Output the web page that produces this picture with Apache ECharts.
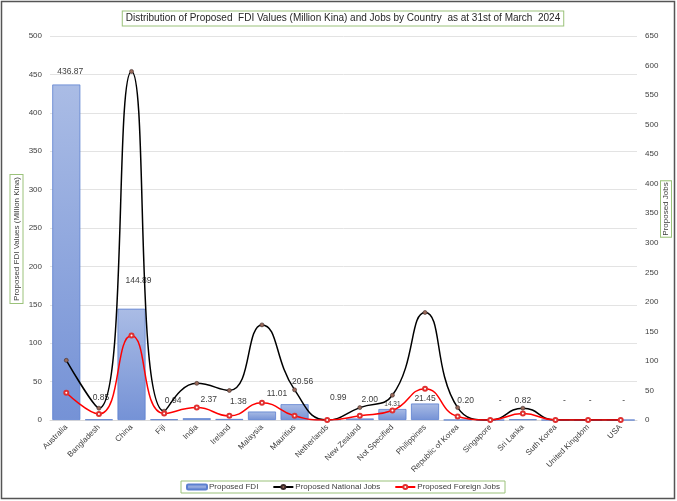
<!DOCTYPE html>
<html>
<head>
<meta charset="utf-8">
<script src="https://cdn.jsdelivr.net/npm/echarts@6/dist/echarts.min.js"></script>
<style>
  html, body { margin: 0; padding: 0; background: #fff; }
  #chart { width: 677px; height: 501px; }
</style>
</head>
<body>
<div id="chart"></div>
<script>
// Countries along the category axis
const countries = ['Australia', 'Bangladesh', 'China', 'Fiji', 'India', 'Ireland', 'Malaysia',
  'Mauritius', 'Netherlands', 'New Zealand', 'Not Specified', 'Philippines', 'Republic of Korea',
  'Singapore', 'Sri Lanka', 'Suth Korea', 'United Kingdom', 'USA'];

// Proposed FDI, million Kina (0 is shown as "-")
const proposedFDI = [436.87, 0.85, 144.89, 0.94, 2.37, 1.38, 11.01, 20.56, 0.99, 2.00, 14.31, 21.45, 0.20,
  0, 0.82, 0, 0, 0];

// Proposed jobs
const nationalJobs = [101, 20, 590, 15, 62, 50, 161, 51, 0, 21, 42, 182, 21, 0, 20, 0, 0, 0];
const foreignJobs = [46, 10, 143, 11, 21, 7, 29, 7, 0, 7, 16, 53, 6, 0, 11, 0, 0, 0];

// Axis ticks
const fdiTicks = { min: 0, max: 500, interval: 50 };
const jobTicks = { min: 0, max: 650, interval: 50 };

const FONT = '"Liberation Sans", Arial, sans-serif';
const GREEN = '#9bc27a';
const TEXT = '#404040';

// Per-country value label placement
const labelTweaks = {
  'Australia': { distance: 8, offset: [4, 0] },
  'Bangladesh': { distance: 17, offset: [2, 0] },
  'China': { distance: 24, offset: [7, 0] },
  'Fiji': { offset: [9, 0] },
  'India': { offset: [12, 0] },
  'Ireland': { distance: 13, offset: [9, 0] },
  'Malaysia': { distance: 13, offset: [15, 0] },
  'Mauritius': { distance: 18, offset: [8, 0] },
  'Netherlands': { distance: 17, offset: [11, 0] },
  'New Zealand': { offset: [10, 0] },
  'Not Specified': { distance: 1, fontSize: 6.5 },
  'Philippines': { distance: 0 },
  'Republic of Korea': { offset: [8, 0] },
  'Singapore': { offset: [10, 0] },
  'Suth Korea': { offset: [9, 0] },
  'United Kingdom': { offset: [2, 0] },
  'USA': { offset: [3, 0] }
};

const barData = proposedFDI.map((v, i) => {
  const t = labelTweaks[countries[i]];
  const item = { value: v };
  if (t) item.label = Object.assign({}, t);
  return item;
});

const chart = echarts.init(document.getElementById('chart'), null, { renderer: 'canvas' });

chart.setOption({
  backgroundColor: '#ffffff',
  animation: false,
  textStyle: { fontFamily: FONT },
  graphic: [
    { type: 'rect', shape: { x: 1.5, y: 1.5, width: 673, height: 497 },
      style: { fill: 'none', stroke: '#555555', lineWidth: 1.5 }, silent: true },
    { type: 'text', x: 343, y: 18.5, z: 10,
      style: { text: 'Distribution of Proposed  FDI Values (Million Kina) and Jobs by Country  as at 31st of March  2024',
        font: '10px ' + FONT, fill: '#262626', align: 'center', verticalAlign: 'middle',
        backgroundColor: '#fff', borderColor: GREEN, borderWidth: 1, padding: [2, 3] } },
    { type: 'text', x: 16.5, y: 239, rotation: Math.PI / 2, z: 10,
      style: { text: 'Proposed FDI Values (Million Kina)', font: '8px ' + FONT, fill: TEXT,
        align: 'center', verticalAlign: 'middle', backgroundColor: '#fff',
        borderColor: GREEN, borderWidth: 1, padding: [2, 2] } },
    { type: 'text', x: 666, y: 209, rotation: Math.PI / 2, z: 10,
      style: { text: 'Proposed Jobs', font: '8px ' + FONT, fill: TEXT,
        align: 'center', verticalAlign: 'middle', backgroundColor: '#fff',
        borderColor: GREEN, borderWidth: 1, padding: [1, 1] } }
  ],
  legend: {
    left: 181, top: 481,
    itemGap: 14, itemWidth: 20, itemHeight: 5,
    padding: [2, 5, 2, 5],
    borderColor: GREEN, borderWidth: 1,
    textStyle: { fontSize: 8, color: TEXT, fontFamily: FONT, padding: [0, 0, 0, -3] },
    data: ['Proposed FDI', 'Proposed National Jobs', 'Proposed Foreign Jobs']
  },
  grid: { left: 50, right: 40, top: 36, bottom: 81 },
  xAxis: {
    type: 'category',
    data: countries,
    axisLine: { lineStyle: { color: '#d9d9d9' } },
    axisTick: { show: false },
    axisLabel: { rotate: 45, interval: 0, fontSize: 8, color: TEXT, margin: 6, fontFamily: FONT }
  },
  yAxis: [
    {
      type: 'value', min: fdiTicks.min, max: fdiTicks.max, interval: fdiTicks.interval,
      axisLine: { show: false }, axisTick: { show: false },
      axisLabel: { fontSize: 8, color: TEXT, margin: 8, fontFamily: FONT },
      splitLine: { lineStyle: { color: '#e3e3e3' } }
    },
    {
      type: 'value', min: jobTicks.min, max: jobTicks.max, interval: jobTicks.interval,
      axisLine: { show: false }, axisTick: { show: false },
      axisLabel: { fontSize: 8, color: TEXT, margin: 8, fontFamily: FONT },
      splitLine: { show: false }
    }
  ],
  series: [
    {
      name: 'Proposed FDI',
      type: 'bar',
      yAxisIndex: 0,
      barCategoryGap: '14%',
      data: barData,
      itemStyle: {
        color: new echarts.graphic.LinearGradient(0, 0, 0, 1, [
          { offset: 0, color: '#aabce5' },
          { offset: 1, color: '#7592d6' }
        ]),
        borderColor: '#5b7fcf', borderWidth: 0.8
      },
      label: {
        show: true, position: 'top', distance: 14,
        fontSize: 8.5, color: TEXT, fontFamily: FONT,
        formatter: p => (p.value === 0 ? '-' : p.value.toFixed(2))
      },
      z: 2
    },
    {
      name: 'Proposed National Jobs',
      type: 'line',
      yAxisIndex: 1,
      smooth: 0.5,
      data: nationalJobs,
      symbol: 'circle', symbolSize: 4,
      lineStyle: { color: '#000000', width: 1.5 },
      itemStyle: { color: '#9a6a5a', borderColor: '#3a2a2a', borderWidth: 0.6 },
      z: 3
    },
    {
      name: 'Proposed Foreign Jobs',
      type: 'line',
      yAxisIndex: 1,
      smooth: 0.5,
      data: foreignJobs,
      symbol: 'emptyCircle', symbolSize: 4,
      lineStyle: { color: '#ff0000', width: 1.5 },
      itemStyle: { color: '#e03030', borderColor: '#e03030', borderWidth: 1 },
      z: 4
    }
  ]
});
</script>
</body>
</html>
